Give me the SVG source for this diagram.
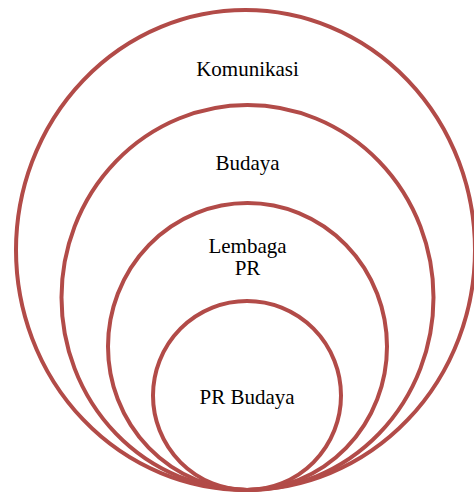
<svg xmlns="http://www.w3.org/2000/svg" width="474" height="493" viewBox="0 0 474 493">
<style>
.ring{fill:none;stroke:#b24b48;stroke-width:4}
.lbl{font-family:"Liberation Serif","Times New Roman",serif;font-size:21px;fill:#000;text-anchor:middle}
</style>
<rect width="474" height="493" fill="#fff"/>
<g id="komunikasi">
<ellipse class="ring" cx="245.5" cy="250" rx="229.5" ry="240"/>
<text class="lbl" x="247.5" y="76">Komunikasi</text>
</g>
<g id="budaya">
<ellipse class="ring" cx="247.5" cy="297.5" rx="186" ry="192.5"/>
<text class="lbl" x="247.5" y="170">Budaya</text>
</g>
<g id="lembaga-pr">
<ellipse class="ring" cx="247.5" cy="346.5" rx="139.5" ry="143.5"/>
<text class="lbl" x="247.5" y="253">Lembaga</text>
<text class="lbl" x="247.5" y="275">PR</text>
</g>
<g id="pr-budaya">
<ellipse class="ring" cx="247" cy="395.5" rx="94" ry="94.5"/>
<text class="lbl" x="247" y="404">PR Budaya</text>
</g>
<g id="connectors"/>
</svg>
